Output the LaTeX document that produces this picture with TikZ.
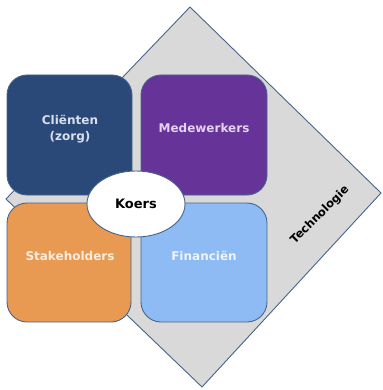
\documentclass[tikz,border=0pt]{standalone}
\usepackage{fontspec}
\setmainfont{DejaVu Sans}
\usetikzlibrary{shapes.geometric}
\definecolor{diamfill}{HTML}{D9D9D9}
\definecolor{edgecol}{HTML}{46648C}
\definecolor{cblue}{HTML}{2A4878}
\definecolor{cpurple}{HTML}{663399}
\definecolor{corange}{HTML}{E89A52}
\definecolor{clight}{HTML}{8EBBF4}
\tikzset{
  box/.style={draw=edgecol, line width=0.9pt, rounded corners=20pt, inner sep=0pt},
  lbl/.style={font=\bfseries\fontsize{12}{14.5}\selectfont, align=center, inner sep=0pt},
}
\begin{document}
\begin{tikzpicture}[x=1pt,y=-1pt]
\path[use as bounding box] (0,0) rectangle (382,390);
\coordinate (dt) at (190,7);
\coordinate (dr) at (381,193);
\coordinate (db) at (202,387);
\coordinate (dl) at (6,199);
\draw[fill=diamfill, draw=edgecol, line width=0.9pt, line join=miter] (dt) -- (dr) -- (db) -- (dl) -- cycle;
\node[box, fill=cblue, minimum width=125pt, minimum height=120pt] (b1) at (69.5,135) {};
\node[box, fill=cpurple, minimum width=126pt, minimum height=120pt] (b2) at (204,135) {};
\node[box, fill=corange, minimum width=124pt, minimum height=119pt] (b3) at (69,262.5) {};
\node[box, fill=clight, minimum width=126pt, minimum height=119pt] (b4) at (204,262.5) {};
\node[lbl, text={rgb,255:red,216;green,224;blue,236}] (t1) at (70,129) {Cliënten\\[1pt](zorg)};
\node[lbl, text={rgb,255:red,226;green,212;blue,242}] (t2) at (204,128) {Medewerkers};
\node[lbl, text={rgb,255:red,252;green,236;blue,220}] (t3) at (70,256) {Stakeholders};
\node[lbl, text={rgb,255:red,236;green,244;blue,254}] (t4) at (204,256) {Financiën};
\node[ellipse, draw=edgecol, line width=0.9pt, fill=white, minimum width=98pt, minimum height=66pt, inner sep=0pt, font=\bfseries\fontsize{13}{15}\selectfont] (k) at (136,204) {Koers};
\node[font=\bfseries\fontsize{11.5}{13}\selectfont, rotate=45, inner sep=0pt] (tech) at (320,215) {Technologie};
\end{tikzpicture}
\end{document}
